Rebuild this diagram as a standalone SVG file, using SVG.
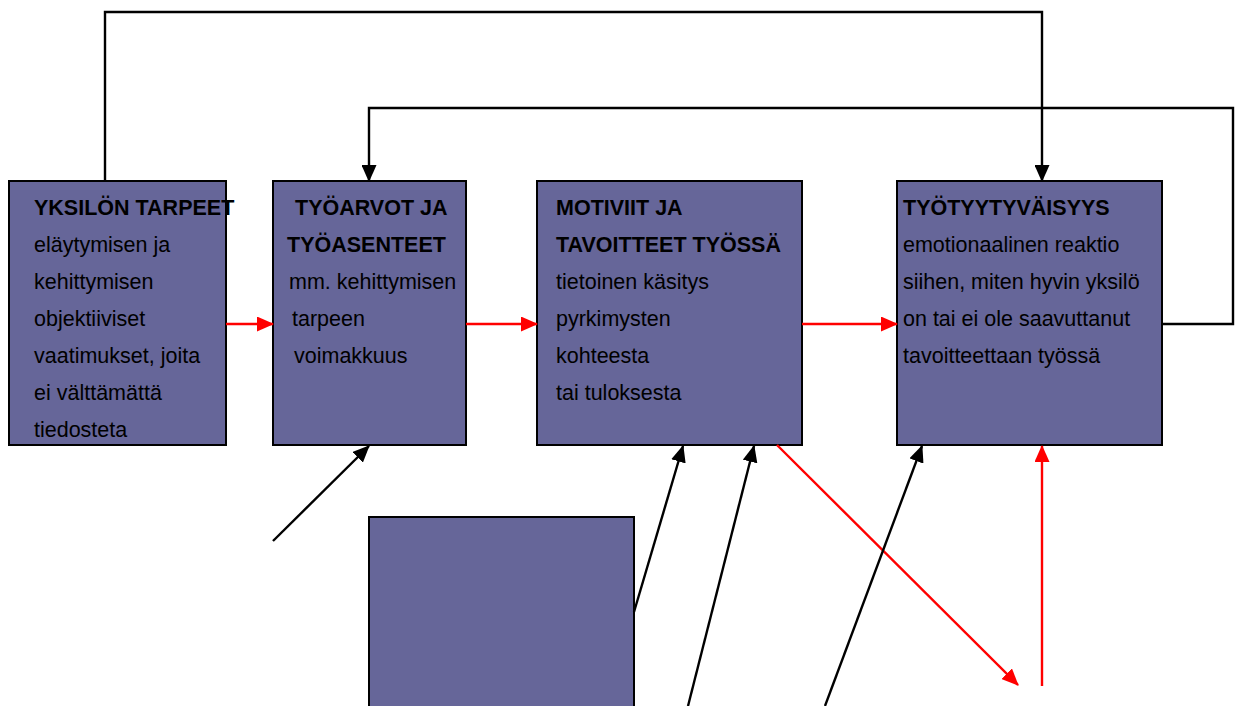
<svg xmlns="http://www.w3.org/2000/svg" width="1241" height="706" viewBox="0 0 1241 706">
  <style>
    .box { fill: #666699; stroke: #000; stroke-width: 2; }
    .t { font-family: "Liberation Sans", Arial, sans-serif; font-size: 21.5px; fill: #000; }
    .b { font-weight: bold; }
    .k { fill: none; stroke: #000; stroke-width: 2.4; }
    .r { fill: none; stroke: #ff0000; stroke-width: 2.4; }
  </style>
  <defs>
    <marker id="ah" viewBox="0 0 17 15" refX="16" refY="7.5" markerWidth="17" markerHeight="15" markerUnits="userSpaceOnUse" orient="auto">
      <path d="M0,0 L17,7.5 L0,15 z" fill="#000"/>
    </marker>
    <marker id="ahr" viewBox="0 0 17 15" refX="16" refY="7.5" markerWidth="17" markerHeight="15" markerUnits="userSpaceOnUse" orient="auto">
      <path d="M0,0 L17,7.5 L0,15 z" fill="#ff0000"/>
    </marker>
  </defs>
  <rect width="1241" height="706" fill="#fff"/>

  <g id="yksilon-tarpeet">
    <rect class="box" x="9" y="181" width="217" height="264"/>
    <text class="t b" x="34" y="215">YKSILÖN TARPEET</text>
    <text class="t" x="34" y="252">eläytymisen ja</text>
    <text class="t" x="34" y="289">kehittymisen</text>
    <text class="t" x="34" y="326">objektiiviset</text>
    <text class="t" x="34" y="363">vaatimukset, joita</text>
    <text class="t" x="34" y="400">ei välttämättä</text>
    <text class="t" x="34" y="437">tiedosteta</text>
  </g>

  <g id="tyoarvot">
    <rect class="box" x="273" y="181" width="193" height="264"/>
    <text class="t b" x="295" y="215">TYÖARVOT JA</text>
    <text class="t b" x="287" y="252">TYÖASENTEET</text>
    <text class="t" x="289" y="289">mm. kehittymisen</text>
    <text class="t" x="292" y="326">tarpeen</text>
    <text class="t" x="294" y="363">voimakkuus</text>
  </g>

  <g id="motiivit">
    <rect class="box" x="537" y="181" width="265" height="264"/>
    <text class="t b" x="556" y="215">MOTIVIIT JA</text>
    <text class="t b" x="556" y="252">TAVOITTEET TYÖSSÄ</text>
    <text class="t" x="556" y="289">tietoinen käsitys</text>
    <text class="t" x="556" y="326">pyrkimysten</text>
    <text class="t" x="556" y="363">kohteesta</text>
    <text class="t" x="556" y="400">tai tuloksesta</text>
  </g>

  <g id="tyotyytyvaisyys">
    <rect class="box" x="897" y="181" width="265" height="264"/>
    <text class="t b" x="903" y="215">TYÖTYYTYVÄISYYS</text>
    <text class="t" x="903" y="252">emotionaalinen reaktio</text>
    <text class="t" x="903" y="289">siihen, miten hyvin yksilö</text>
    <text class="t" x="903" y="326">on tai ei ole saavuttanut</text>
    <text class="t" x="903" y="363">tavoitteettaan työssä</text>
  </g>

  <g id="lower-box">
    <rect class="box" x="369" y="517" width="265" height="210"/>
  </g>

  <g id="connectors">
    <!-- feedback loops along the top -->
    <path class="k" d="M105,181 V12 H1042 V181" marker-end="url(#ah)"/>
    <path class="k" d="M1162,324 H1233 V108 H369 V181" marker-end="url(#ah)"/>
    <!-- main chain -->
    <path class="r" d="M226,324 H273" marker-end="url(#ahr)"/>
    <path class="r" d="M466,324 H537" marker-end="url(#ahr)"/>
    <path class="r" d="M802,324 H897" marker-end="url(#ahr)"/>
    <path class="r" d="M777,445 L1018,685" marker-end="url(#ahr)"/>
    <path class="r" d="M1042,686 V446" marker-end="url(#ahr)"/>
    <!-- incoming influences from below -->
    <path class="k" d="M273,541 L369,446" marker-end="url(#ah)"/>
    <path class="k" d="M634,612 L683,446" marker-end="url(#ah)"/>
    <path class="k" d="M688,706 L754,446" marker-end="url(#ah)"/>
    <path class="k" d="M825,706 L922,446" marker-end="url(#ah)"/>
  </g>
</svg>
